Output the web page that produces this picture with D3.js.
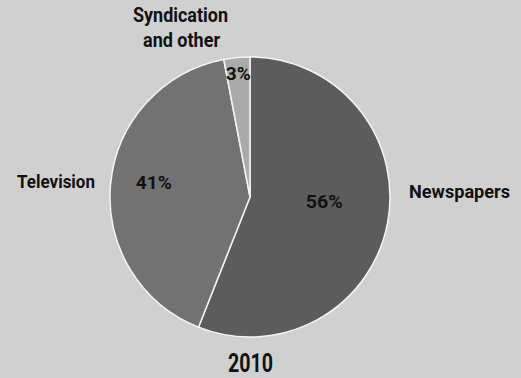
<!DOCTYPE html>
<html>
<head>
<meta charset="utf-8">
<script src="https://cdn.jsdelivr.net/npm/d3@7"></script>
<style>
  body { margin: 0; background: #d0d0d0; }
  text { font-family: Roboto, "Liberation Sans", sans-serif; font-weight: bold; fill: #111; }
</style>
</head>
<body>
<script>
var categories = ["Newspapers", "Television", "Syndication and other"];
var shares = [56, 41, 3];
var year = "2010";

var colors = ["#5c5c5c", "#727272", "#aaaaaa"];
// percent label placement: fraction of radius, then a small vertical nudge
var labelRadius = [0.54, 0.69, 0.89];
var labelNudge = [-10, -6, 0];
var pctWidth = [37, 36, 25];

var width = 521, height = 378;
var cx = 250, cy = 197, r = 140;

var svg = d3.select("body").append("svg")
    .attr("width", width)
    .attr("height", height);

svg.append("rect")
    .attr("width", width)
    .attr("height", height)
    .attr("fill", "#d0d0d0");

var pie = d3.pie().sort(null).value(function(d) { return d; });
var arcs = pie(shares);
var arc = d3.arc().innerRadius(0).outerRadius(r);

var g = svg.append("g").attr("transform", "translate(" + cx + "," + cy + ")");

g.selectAll("path")
    .data(arcs)
    .enter()
    .append("path")
    .attr("d", arc)
    .attr("fill", function(d, i) { return colors[i]; })
    .attr("stroke", "#f4f4f4")
    .attr("stroke-width", 1.5);

g.selectAll("text.pct")
    .data(arcs)
    .enter()
    .append("text")
    .attr("class", "pct")
    .attr("transform", function(d, i) {
        var a = d3.arc().innerRadius(r * labelRadius[i]).outerRadius(r * labelRadius[i]);
        var c = a.centroid(d);
        return "translate(" + c[0] + "," + (c[1] + labelNudge[i]) + ")";
    })
    .attr("text-anchor", "middle")
    .attr("dy", "0.35em")
    .attr("textLength", function(d, i) { return pctWidth[i]; })
    .attr("lengthAdjust", "spacingAndGlyphs")
    .style("font-size", "19px")
    .text(function(d) { return d.data + "%"; });

// outer category labels
svg.append("text")
    .attr("x", 409).attr("y", 198)
    .attr("textLength", 101).attr("lengthAdjust", "spacingAndGlyphs")
    .style("font-size", "19px")
    .text(categories[0]);

svg.append("text")
    .attr("x", 17).attr("y", 188)
    .attr("textLength", 78).attr("lengthAdjust", "spacingAndGlyphs")
    .style("font-size", "19px")
    .text(categories[1]);

var synd = svg.append("text")
    .style("font-size", "20px");
synd.append("tspan").attr("x", 133).attr("y", 22)
    .attr("textLength", 95).attr("lengthAdjust", "spacingAndGlyphs")
    .text("Syndication");
synd.append("tspan").attr("x", 143).attr("y", 47)
    .attr("textLength", 77).attr("lengthAdjust", "spacingAndGlyphs")
    .text("and other");

svg.append("text")
    .attr("x", 228).attr("y", 372)
    .attr("textLength", 45).attr("lengthAdjust", "spacingAndGlyphs")
    .style("font-size", "26px")
    .text(year);
</script>
</body>
</html>
